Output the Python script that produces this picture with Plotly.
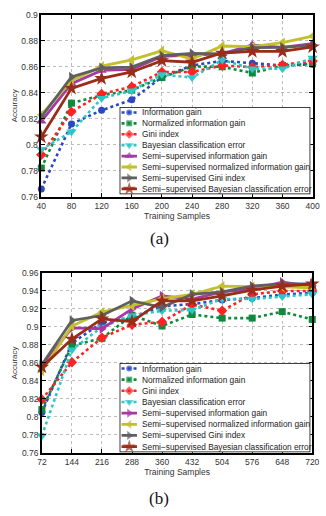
import plotly.graph_objects as go

# ---------------- data ----------------
names = [
    "Information gain",
    "Normalized information gain",
    "Gini index",
    "Bayesian classification error",
    "Semi−supervised information gain",
    "Semi−supervised normalized information gain",
    "Semi−supervised Gini index",
    "Semi−supervised Bayesian classification error",
]

samples_a = [40, 80, 120, 160, 200, 240, 280, 320, 360, 400]
ig_a = [0.766, 0.816, 0.8265, 0.8346, 0.852, 0.861, 0.8645, 0.8628, 0.861, 0.862]
nig_a = [0.782, 0.832, 0.838, 0.842, 0.8517, 0.8602, 0.860, 0.8552, 0.861, 0.8623]
gini_a = [0.7923, 0.8253, 0.8391, 0.8447, 0.856, 0.856, 0.861, 0.8597, 0.8615, 0.8645]
bce_a = [0.7963, 0.810, 0.8358, 0.8416, 0.854, 0.8517, 0.8653, 0.8585, 0.8585, 0.8668]
ss_ig_a = [0.818, 0.847, 0.8572, 0.858, 0.868, 0.869, 0.870, 0.8768, 0.875, 0.8778]
ss_nig_a = [0.823, 0.8492, 0.8605, 0.8653, 0.8723, 0.866, 0.876, 0.8755, 0.8786, 0.8836]
ss_gini_a = [0.8215, 0.8522, 0.8592, 0.8597, 0.8685, 0.8703, 0.870, 0.8748, 0.875, 0.8765]
ss_bce_a = [0.806, 0.8434, 0.851, 0.856, 0.8647, 0.8635, 0.8706, 0.8718, 0.8718, 0.8753]

samples_b = [72, 144, 216, 288, 360, 432, 504, 576, 648, 720]
ig_b = [0.8047, 0.882, 0.9047, 0.911, 0.923, 0.9254, 0.930, 0.932, 0.936, 0.938]
nig_b = [0.808, 0.8793, 0.8873, 0.913, 0.901, 0.9138, 0.9098, 0.9098, 0.917, 0.9083]
gini_b = [0.8193, 0.8607, 0.888, 0.9025, 0.9055, 0.925, 0.918, 0.9363, 0.940, 0.940]
bce_b = [0.7789, 0.8745, 0.900, 0.9127, 0.918, 0.9189, 0.931, 0.931, 0.9338, 0.9363]
ss_ig_b = [0.8565, 0.899, 0.898, 0.920, 0.9345, 0.931, 0.939, 0.942, 0.9498, 0.9454]
ss_nig_b = [0.851, 0.901, 0.9164, 0.9236, 0.9316, 0.9363, 0.9454, 0.9447, 0.9447, 0.9436]
ss_gini_b = [0.8581, 0.9072, 0.9127, 0.929, 0.9218, 0.9363, 0.9389, 0.9454, 0.948, 0.948]
ss_bce_b = [0.8553, 0.8865, 0.909, 0.906, 0.929, 0.929, 0.9345, 0.941, 0.9454, 0.948]

yticks_a = [0.76, 0.78, 0.8, 0.82, 0.84, 0.86, 0.88, 0.9]
yticktext_a = ["0.76", "0.78", "0.8", "0.82", "0.84", "0.86", "0.88", "0.9"]
yticks_b = [0.76, 0.78, 0.8, 0.82, 0.84, 0.86, 0.88, 0.9, 0.92, 0.94, 0.96]
yticktext_b = ["0.76", "0.78", "0.8", "0.82", "0.84", "0.86", "0.88", "0.9", "0.92", "0.94", "0.96"]

# ---------------- styles ----------------
colors = ["#2a48c0", "#0e8a3c", "#ff2222", "#2ec6c6", "#a53aa5", "#c2c02c", "#5f5f5f", "#9a2c1a"]
symbols_a = ["circle", "square", "diamond", "triangle-down", "triangle-up",
             "triangle-left", "triangle-right", "star"]
symbols_b = ["circle", "square", "diamond", "triangle-down", "triangle-right",
             "triangle-left", "triangle-right", "star"]
msizes = [7, 7, 8, 9, 9, 9, 9, 11]

W, H = 326, 516
def px_x(p): return p / W
def px_y(p): return 1 - p / H

FONT = "Liberation Sans, Arial, sans-serif"

fig = go.Figure()

def add_series(series, xs, symbols, xa, ya, lxa, lya):
    for i, ys in enumerate(series):
        dotted = i < 4
        line = dict(color=colors[i], width=2.6 if dotted else 2.8,
                    dash="dot" if dotted else "solid")
        marker = dict(symbol=symbols[i], size=msizes[i], color=colors[i],
                      line=dict(width=0))
        fig.add_trace(go.Scatter(x=xs, y=ys, mode="lines+markers", name=names[i],
                                 line=line, marker=marker, xaxis=xa, yaxis=ya,
                                 cliponaxis=False, showlegend=False))
    # custom compact legend samples
    for i in range(len(series)):
        dotted = i < 4
        line = dict(color=colors[i], width=2.6 if dotted else 2.8,
                    dash="dot" if dotted else "solid")
        fig.add_trace(go.Scatter(x=[2, 10, 18], y=[i, i, i], mode="lines+markers",
                                 line=line,
                                 marker=dict(symbol=symbols[i], size=[0, msizes[i] - 1, 0],
                                             color=colors[i], line=dict(width=0)),
                                 xaxis=lxa, yaxis=lya, showlegend=False,
                                 cliponaxis=False, hoverinfo="skip"))
        fig.add_annotation(x=21, y=i, xref=lxa, yref=lya, text=names[i],
                           showarrow=False, xanchor="left", yanchor="middle",
                           font=dict(family=FONT, size=8.3, color="#222"))

add_series([ig_a, nig_a, gini_a, bce_a, ss_ig_a, ss_nig_a, ss_gini_a, ss_bce_a],
           samples_a, symbols_a, "x", "y", "x3", "y3")
add_series([ig_b, nig_b, gini_b, bce_b, ss_ig_b, ss_nig_b, ss_gini_b, ss_bce_b],
           samples_b, symbols_b, "x2", "y2", "x4", "y4")

axis_common = dict(showline=True, linecolor="black", linewidth=1.5, mirror="allticks",
                   ticks="inside", ticklen=4, tickwidth=1, tickcolor="black",
                   showgrid=True, gridcolor="#bdbdbd", gridwidth=1, griddash="dot",
                   zeroline=False, ticklabeloverflow="allow",
                   tickfont=dict(family=FONT, size=8.5, color="#333"))

xdom = [px_x(37.7), px_x(319.4)]
fig.update_layout(
    width=W, height=H, margin=dict(l=0, r=0, t=0, b=0),
    paper_bgcolor="white", plot_bgcolor="white",
    xaxis=dict(domain=xdom, anchor="y", range=[40, 400], tickvals=samples_a,
               title=dict(text="Training Samples", standoff=1,
                          font=dict(family=FONT, size=8.5, color="#333")),
               **axis_common),
    yaxis=dict(domain=[px_y(195.5), px_y(10)], anchor="x", range=[0.76, 0.9],
               tickvals=yticks_a, ticktext=yticktext_a,
               title=dict(text="Accuracy", standoff=3,
                          font=dict(family=FONT, size=8, color="#333")),
               **axis_common),
    xaxis2=dict(domain=[px_x(38.3), px_x(319)], anchor="y2", range=[72, 720], tickvals=samples_b,
                title=dict(text="Training Samples", standoff=1,
                           font=dict(family=FONT, size=8.5, color="#333")),
                **axis_common),
    yaxis2=dict(domain=[px_y(456.6), px_y(273.3)], anchor="x2", range=[0.76, 0.96],
                tickvals=yticks_b, ticktext=yticktext_b,
                title=dict(text="Accuracy", standoff=3,
                           font=dict(family=FONT, size=8, color="#333")),
                **axis_common),
    xaxis3=dict(domain=[px_x(119), px_x(317)], anchor="y3", range=[0, 198],
                visible=False, fixedrange=True),
    yaxis3=dict(domain=[px_y(193), px_y(104)], anchor="x3", range=[7.5, -0.5],
                visible=False, fixedrange=True),
    xaxis4=dict(domain=[px_x(119), px_x(317)], anchor="y4", range=[0, 198],
                visible=False, fixedrange=True),
    yaxis4=dict(domain=[px_y(456), px_y(365)], anchor="x4", range=[7.5, -0.5],
                visible=False, fixedrange=True),
)

# legend frames (white box, below the legend samples but above the data)
for xa, ya in [("x3", "y3"), ("x4", "y4")]:
    fig.add_shape(type="rect", xref=xa, yref=ya, x0=0, x1=198, y0=-0.5, y1=7.5,
                  fillcolor="white", line=dict(color="black", width=1.5), layer="below")

# captions
for txt, yp in [("(a)", 238), ("(b)", 503)]:
    fig.add_annotation(x=px_x(160), y=px_y(yp), xref="paper", yref="paper", text=txt,
                       showarrow=False, xanchor="center", yanchor="middle",
                       font=dict(family="Liberation Serif, Times New Roman, serif",
                                 size=17, color="#111"))

fig.write_html("out.html", config={"displayModeBar": False},
               post_script="document.body.style.margin='0';"
                           "document.body.style.overflow='hidden';")
